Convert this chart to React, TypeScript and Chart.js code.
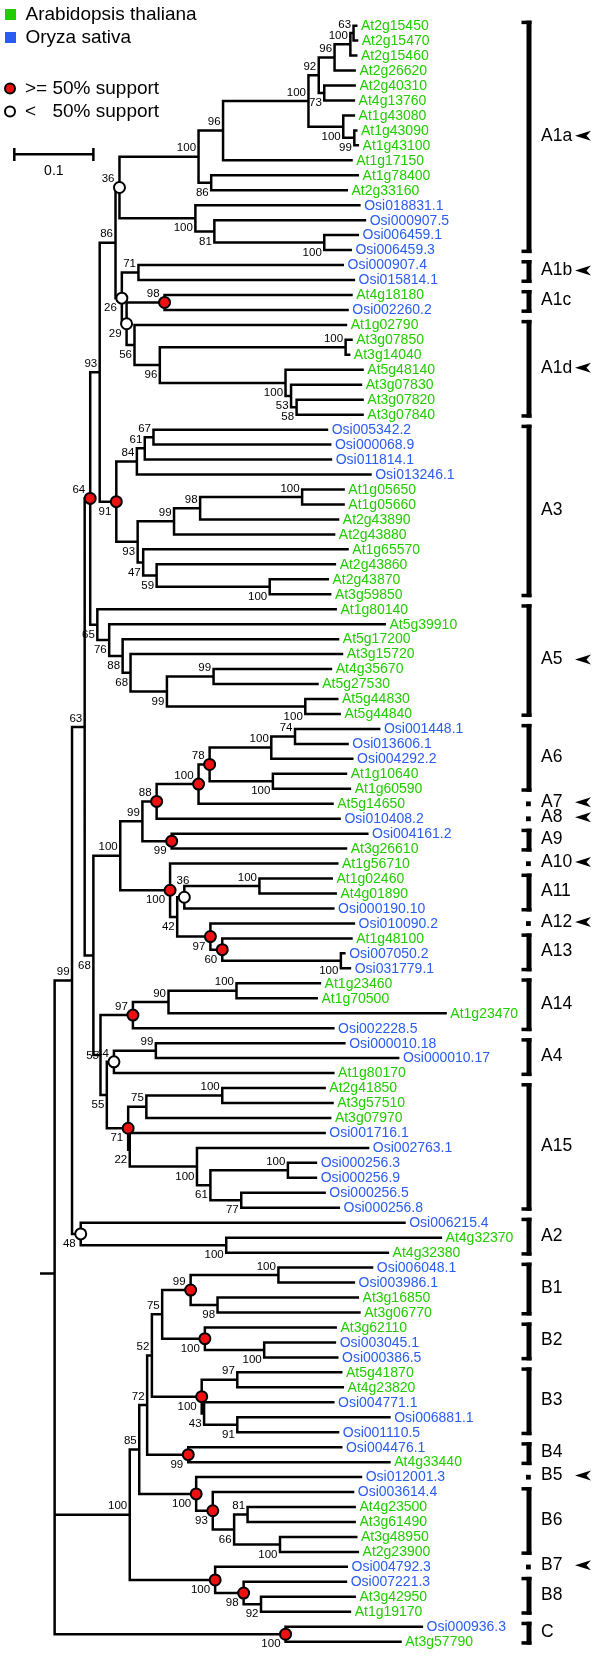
import React, { useEffect, useRef } from 'react';
import { Chart, registerables } from 'chart.js';

Chart.register(...registerables);

// ---------- DATA ----------
const leafNames = [
  'At2g15450', 'At2g15470', 'At2g15460', 'At2g26620', 'At2g40310', 'At4g13760', 'At1g43080', 'At1g43090', 'At1g43100', 'At1g17150',
  'At1g78400', 'At2g33160', 'Osi018831.1', 'Osi000907.5', 'Osi006459.1', 'Osi006459.3', 'Osi000907.4', 'Osi015814.1', 'At4g18180', 'Osi002260.2',
  'At1g02790', 'At3g07850', 'At3g14040', 'At5g48140', 'At3g07830', 'At3g07820', 'At3g07840', 'Osi005342.2', 'Osi000068.9', 'Osi011814.1',
  'Osi013246.1', 'At1g05650', 'At1g05660', 'At2g43890', 'At2g43880', 'At1g65570', 'At2g43860', 'At2g43870', 'At3g59850', 'At1g80140',
  'At5g39910', 'At5g17200', 'At3g15720', 'At4g35670', 'At5g27530', 'At5g44830', 'At5g44840', 'Osi001448.1', 'Osi013606.1', 'Osi004292.2',
  'At1g10640', 'At1g60590', 'At5g14650', 'Osi010408.2', 'Osi004161.2', 'At3g26610', 'At1g56710', 'At1g02460', 'At4g01890', 'Osi000190.10',
  'Osi010090.2', 'At1g48100', 'Osi007050.2', 'Osi031779.1', 'At1g23460', 'At1g70500', 'At1g23470', 'Osi002228.5', 'Osi000010.18', 'Osi000010.17',
  'At1g80170', 'At2g41850', 'At3g57510', 'At3g07970', 'Osi001716.1', 'Osi002763.1', 'Osi000256.3', 'Osi000256.9', 'Osi000256.5', 'Osi000256.8',
  'Osi006215.4', 'At4g32370', 'At4g32380', 'Osi006048.1', 'Osi003986.1', 'At3g16850', 'At3g06770', 'At3g62110', 'Osi003045.1', 'Osi000386.5',
  'At5g41870', 'At4g23820', 'Osi004771.1', 'Osi006881.1', 'Osi001110.5', 'Osi004476.1', 'At4g33440', 'Osi012001.3', 'Osi003614.4', 'At4g23500',
  'At3g61490', 'At3g48950', 'At2g23900', 'Osi004792.3', 'Osi007221.3', 'At3g42950', 'At1g19170', 'Osi000936.3', 'At3g57790',
];

// distance of each tip from the root (substitutions / site)
const leafDepth = [
  0.383, 0.384, 0.383, 0.381, 0.381, 0.380, 0.380, 0.383, 0.385, 0.377,
  0.385, 0.371, 0.387, 0.394, 0.385, 0.376, 0.366, 0.380, 0.377, 0.372,
  0.370, 0.377, 0.374, 0.391, 0.389, 0.391, 0.391, 0.346, 0.350, 0.351,
  0.401, 0.367, 0.367, 0.360, 0.355, 0.372, 0.356, 0.347, 0.350, 0.357,
  0.419, 0.360, 0.365, 0.351, 0.334, 0.359, 0.362, 0.412, 0.372, 0.378,
  0.370, 0.375, 0.353, 0.362, 0.397, 0.370, 0.359, 0.352, 0.357, 0.354,
  0.380, 0.377, 0.368, 0.375, 0.337, 0.333, 0.496, 0.354, 0.368, 0.436,
  0.354, 0.343, 0.353, 0.350, 0.343, 0.398, 0.332, 0.332, 0.343, 0.361,
  0.444, 0.490, 0.423, 0.403, 0.380, 0.385, 0.387, 0.357, 0.356, 0.359,
  0.364, 0.366, 0.354, 0.425, 0.360, 0.364, 0.425, 0.389, 0.379, 0.381,
  0.381, 0.383, 0.385, 0.371, 0.370, 0.381, 0.375, 0.466, 0.439,
];

// internal nodes in post-order; children are leaf indices (numbers) or node ids (strings)
const nodeIds = [
  'a1', 'a2', 'a3', 'a4', 'a5', 'a6', 'a7', 'a8', 'a9', 'a10', 'a11', 'a12', 'a13', 'a14', 'a15',
  'b1', 'c1', 'd1', 'd2', 'd3', 'd4', 'd5', 'd6', 'd7', 'd8', 'd9',
  'e1', 'e2', 'e3', 'e4', 'e5', 'e6', 'e7', 'e8', 'e9', 'e10', 'e11', 'e12',
  'f1', 'f2', 'f3', 'f4', 'f5', 'f6', 'f7', 'f8',
  'g1', 'g2', 'g3', 'g4', 'g5', 'g6', 'g7', 'g8',
  'h1', 'h2', 'h3', 'h4', 'h5', 'h6', 'h7', 'h8',
  'i1', 'i2', 'i3', 'j1', 'j2',
  'k1', 'k2', 'k3', 'k4', 'k5', 'k6', 'k7', 'k8', 'k9', 'k10', 'k11', 'k12',
  'l1', 'l2', 'l3',
  'm1', 'm2', 'm3', 'm4', 'm5', 'm6', 'm7', 'm8', 'm9', 'm10', 'm11', 'm12', 'm13', 'm14', 'm15', 'm16', 'm17', 'm18', 'm19', 'm20', 'm21', 'm22', 'm23',
  'n1', 'root',
];
const nodeKids: (number | string)[][] = [
  [0, 1], ['a1', 2], ['a2', 3], [4, 5], ['a3', 'a4'], [7, 8], [6, 'a6'], ['a5', 'a7'], ['a8', 9], [10, 11], ['a9', 'a10'], [14, 15], [13, 'a12'], [12, 'a13'], ['a11', 'a14'],
  [16, 17], [18, 19], [21, 22], [25, 26], [24, 'd2'], [23, 'd3'], ['d1', 'd4'], [20, 'd5'], ['c1', 'd6'], ['b1', 'd7'], ['a15', 'd8'],
  [27, 28], ['e1', 29], ['e2', 30], [31, 32], ['e4', 33], ['e5', 34], [37, 38], [36, 'e7'], [35, 'e8'], ['e6', 'e9'], ['e3', 'e10'], ['d9', 'e11'],
  [43, 44], [45, 46], ['f1', 'f2'], [42, 'f3'], [41, 'f4'], [40, 'f5'], [39, 'f6'], ['e12', 'f7'],
  [47, 48], ['g1', 49], [50, 51], ['g2', 'g3'], ['g4', 52], ['g5', 53], [54, 55], ['g6', 'g7'],
  [57, 58], ['h1', 59], [62, 63], [61, 'h3'], [60, 'h4'], ['h2', 'h5'], [56, 'h6'], ['g8', 'h7'],
  [64, 65], ['i1', 66], ['i2', 67], [68, 69], ['j1', 70],
  [71, 72], ['k1', 73], [76, 77], [78, 79], ['k3', 'k4'], [75, 'k5'], [74, 'k6'], ['k2', 'k7'], ['j2', 'k8'], ['i3', 'k9'], ['h8', 'k10'], ['f8', 'k11'],
  [81, 82], [80, 'l1'], ['k12', 'l2'],
  [83, 84], [85, 86], ['m1', 'm2'], [88, 89], [87, 'm4'], ['m3', 'm5'], [90, 91], [93, 94], [92, 'm8'], ['m7', 'm9'], ['m6', 'm10'], [95, 96], ['m11', 'm12'],
  [99, 100], [101, 102], ['m14', 'm15'], [98, 'm16'], [97, 'm17'], ['m13', 'm18'], [105, 106], [104, 'm20'], [103, 'm21'], ['m19', 'm22'],
  [107, 108], ['l3', 'm23', 'n1'],
];
const nodeDepth = [
  0.378, 0.374, 0.354, 0.341, 0.334, 0.379, 0.365, 0.321, 0.213, 0.198, 0.182, 0.341, 0.202, 0.178, 0.082,
  0.106, 0.139, 0.368, 0.306, 0.299, 0.292, 0.133, 0.101, 0.091, 0.085, 0.077,
  0.125, 0.114, 0.104, 0.313, 0.184, 0.151, 0.272, 0.129, 0.112, 0.105, 0.078, 0.057,
  0.201, 0.317, 0.142, 0.096, 0.086, 0.069, 0.054, 0.045,
  0.304, 0.274, 0.276, 0.196, 0.182, 0.129, 0.148, 0.111,
  0.259, 0.164, 0.362, 0.212, 0.197, 0.155, 0.146, 0.083,
  0.230, 0.144, 0.099, 0.128, 0.075,
  0.212, 0.116, 0.295, 0.236, 0.197, 0.180, 0.095, 0.093, 0.066, 0.058, 0.049, 0.038,
  0.217, 0.033, 0.022,
  0.283, 0.206, 0.172, 0.265, 0.190, 0.136, 0.231, 0.231, 0.189, 0.186, 0.123, 0.169, 0.117,
  0.244, 0.285, 0.227, 0.200, 0.179, 0.107, 0.261, 0.239, 0.203, 0.095,
  0.292, 0,
];
const nodeSupport: (number | null)[] = [
  63, 100, 96, 73, 92, 99, 100, 100, 96, 86, 100, 100, 81, 100, 36,
  71, 98, 100, 58, 53, 100, 96, 56, 29, 26, 86,
  67, 61, 84, 100, 98, 99, 100, 59, 47, 93, 91, 93,
  99, 100, 99, 68, 88, 76, 65, 64,
  74, 100, 100, 78, 100, 88, 99, 99,
  100, 36, 100, 60, 97, 42, 100, 100,
  100, 90, 97, 99, 44,
  100, 75, 100, 77, 61, 100, 22, 71, 55, 55, 68, 63,
  100, 48, 99,
  100, 98, 99, 100, 100, 75, 97, 91, 43, 100, 52, 99, 72,
  81, 100, 66, 93, 100, 85, 92, 98, 100, 100,
  100, null,
];
// nodes marked with a support circle in the figure
const nodeCircle = [
  0, 0, 0, 0, 0, 0, 0, 0, 0, 0, 0, 0, 0, 0, 1,
  0, 1, 0, 0, 0, 0, 0, 0, 1, 1, 0,
  0, 0, 0, 0, 0, 0, 0, 0, 0, 0, 1, 0,
  0, 0, 0, 0, 0, 0, 0, 1,
  0, 0, 0, 1, 1, 1, 1, 0,
  0, 1, 0, 1, 1, 0, 1, 0,
  0, 0, 1, 0, 1,
  0, 0, 0, 0, 0, 0, 0, 1, 0, 0, 0, 0,
  0, 1, 0,
  0, 0, 1, 0, 1, 0, 0, 0, 0, 1, 0, 1, 0,
  0, 0, 0, 1, 1, 0, 0, 1, 1, 0,
  1, 0,
];
const rootStubRow = 83.4;
const rootStubDepth = -0.0185;

// clade brackets (first / last leaf index)
const cladeNames = ['A1a', 'A1b', 'A1c', 'A1d', 'A3', 'A5', 'A6', 'A7', 'A8', 'A9', 'A10', 'A11', 'A12', 'A13', 'A14', 'A4', 'A15', 'A2', 'B1', 'B2', 'B3', 'B4', 'B5', 'B6', 'B7', 'B8', 'C'];
const cladeFirst = [0, 16, 18, 20, 27, 39, 47, 52, 53, 54, 56, 57, 60, 61, 64, 68, 71, 80, 83, 87, 90, 95, 97, 98, 103, 104, 107];
const cladeLast = [15, 17, 19, 26, 38, 46, 51, 52, 53, 55, 56, 59, 60, 63, 67, 70, 79, 82, 86, 89, 94, 96, 97, 102, 103, 106, 108];
const cladeArrow = [1, 1, 0, 1, 0, 1, 0, 1, 1, 0, 1, 0, 1, 0, 0, 0, 0, 0, 0, 0, 0, 0, 1, 0, 1, 0, 0];

const speciesNames = ['Arabidopsis thaliana', 'Oryza sativa'];
const speciesColors = ['#22cc00', '#2a5cf2'];
const supportLegend = ['>= 50% support', '<', '50% support'];
const scaleBarStart = -0.051;
const scaleBarLength = 0.1;
const scaleBarLabel = '0.1';

const xMin = -0.0596;
const xMax = 0.6802;
const yMin = -1.212;
const yMax = 108.99;

// label placement exceptions (pixels) where the figure moves a support value off its usual spot
const labelShift: Record<string, [number, number]> = { h2: [10, -7.5], k10: [1, -9] };

const FONT = '"Liberation Sans", Arial, Helvetica, sans-serif';
const RED = '#ee1111';

export default function App() {
  const ref = useRef<HTMLCanvasElement>(null);

  useEffect(() => {
    document.body.style.margin = '0';
    const canvas = ref.current;
    if (!canvas) return;

    const pos: Record<string, { x: number; y: number }> = {};
    const key = (k: number | string) => (typeof k === 'number' ? 'L' + k : k);
    leafNames.forEach((_, i) => {
      pos['L' + i] = { x: leafDepth[i], y: i };
    });
    const lastKid: Record<string, boolean> = {};
    nodeIds.forEach((id, j) => {
      const kids = nodeKids[j].map(key);
      const ys = kids.map((k) => pos[k].y);
      pos[id] = { x: nodeDepth[j], y: (ys[0] + ys[ys.length - 1]) / 2 };
      lastKid[kids[kids.length - 1]] = true;
    });

    const branches: any[] = [];
    const gap = { x: null, y: null };
    nodeIds.forEach((id, j) => {
      const kids = nodeKids[j].map(key);
      const n = pos[id];
      const f = pos[kids[0]];
      const l = pos[kids[kids.length - 1]];
      branches.push({ x: f.x, y: f.y }, { x: n.x, y: f.y }, { x: n.x, y: l.y }, { x: l.x, y: l.y }, gap);
      for (let m = 1; m < kids.length - 1; m++) {
        const c = pos[kids[m]];
        branches.push({ x: n.x, y: c.y }, { x: c.x, y: c.y }, gap);
      }
    });
    branches.push({ x: rootStubDepth, y: rootStubRow }, { x: 0, y: rootStubRow }, gap);

    const markers: any[] = [];
    const markerColors: string[] = [];
    nodeIds.forEach((id, j) => {
      if (nodeCircle[j]) {
        markers.push({ x: pos[id].x, y: pos[id].y });
        markerColors.push((nodeSupport[j] ?? 0) >= 50 ? RED : '#ffffff');
      }
    });

    const textPlugin = {
      id: 'treeText',
      afterDatasetsDraw(chart: any) {
        const c = chart.ctx as CanvasRenderingContext2D;
        const xs = chart.scales.x;
        const ys = chart.scales.y;
        c.save();
        // leaf labels
        c.font = `14px ${FONT}`;
        c.textBaseline = 'middle';
        c.textAlign = 'left';
        leafNames.forEach((name, i) => {
          c.fillStyle = name.startsWith('Osi') ? speciesColors[1] : speciesColors[0];
          c.fillText(name, xs.getPixelForValue(leafDepth[i]) + 3.5, ys.getPixelForValue(i) + 0.5);
        });
        // support values
        c.font = `11.5px ${FONT}`;
        c.fillStyle = '#000';
        c.textAlign = 'right';
        nodeIds.forEach((id, j) => {
          const s = nodeSupport[j];
          if (s == null) return;
          const sh = labelShift[id] || [0, 0];
          const px = xs.getPixelForValue(pos[id].x) - (nodeCircle[j] ? 5 : 2.5) + sh[0];
          const py = ys.getPixelForValue(pos[id].y) + (lastKid[id] ? 10 : -8.5) + sh[1];
          c.fillText(String(s), px, py);
        });
        // clade brackets
        c.textAlign = 'left';
        cladeNames.forEach((name, k) => {
          const y1 = ys.getPixelForValue(cladeFirst[k]);
          const y2 = ys.getPixelForValue(cladeLast[k]);
          c.fillStyle = '#000';
          if (cladeFirst[k] === cladeLast[k]) {
            c.fillRect(526, y1 - 2.3, 4.8, 4.8);
          } else {
            const top = y1 - 5;
            const bot = y2 + 3;
            c.fillRect(526.5, top, 5, bot - top);
            c.fillRect(521.5, top, 10, 3.5);
            c.fillRect(521.5, bot - 3.5, 10, 3.5);
          }
          const ym = (y1 + y2) / 2 - (cladeFirst[k] === cladeLast[k] ? 1.5 : 2);
          c.font = `17.5px ${FONT}`;
          c.textBaseline = 'middle';
          c.fillText(name, 541, ym);
          if (cladeArrow[k]) {
            const ay = ym;
            c.beginPath();
            c.moveTo(575, ay);
            c.lineTo(591, ay - 5);
            c.lineTo(586.5, ay);
            c.lineTo(591, ay + 5);
            c.closePath();
            c.fill();
          }
        });
        // legend
        c.font = `19px ${FONT}`;
        c.textBaseline = 'middle';
        c.fillStyle = speciesColors[0];
        c.fillRect(5, 9, 11, 11);
        c.fillStyle = speciesColors[1];
        c.fillRect(5, 32, 11, 11);
        c.fillStyle = '#000';
        c.fillText(speciesNames[0], 25.5, 15);
        c.fillText(speciesNames[1], 25.5, 38);
        c.lineWidth = 2;
        c.strokeStyle = '#000';
        c.beginPath();
        c.arc(10, 88.5, 5, 0, Math.PI * 2);
        c.fillStyle = RED;
        c.fill();
        c.stroke();
        c.beginPath();
        c.arc(10, 111.5, 5, 0, Math.PI * 2);
        c.fillStyle = '#fff';
        c.fill();
        c.stroke();
        c.fillStyle = '#000';
        c.fillText(supportLegend[0], 25, 89);
        c.fillText(supportLegend[1], 25, 112);
        const off = c.measureText('>= ').width;
        c.fillText(supportLegend[2], 25 + off, 112);
        // scale bar
        const sx1 = xs.getPixelForValue(scaleBarStart);
        const sx2 = xs.getPixelForValue(scaleBarStart + scaleBarLength);
        c.lineWidth = 2.5;
        c.beginPath();
        c.moveTo(sx1, 154.3);
        c.lineTo(sx2, 154.3);
        c.moveTo(sx1, 148);
        c.lineTo(sx1, 161);
        c.moveTo(sx2, 148);
        c.lineTo(sx2, 161);
        c.stroke();
        c.font = `14px ${FONT}`;
        c.textAlign = 'center';
        c.fillText(scaleBarLabel, (sx1 + sx2) / 2, 171);
        c.restore();
      },
    };

    const chart = new Chart(canvas, {
      type: 'scatter',
      data: {
        datasets: [
          {
            label: 'support',
            data: markers,
            order: 0,
            showLine: false,
            pointRadius: 5.5,
            pointHoverRadius: 5.5,
            pointBorderWidth: 2,
            pointBorderColor: '#000',
            pointBackgroundColor: markerColors,
          } as any,
          {
            label: 'branches',
            data: branches,
            order: 1,
            showLine: true,
            spanGaps: false,
            borderColor: '#000',
            borderWidth: 2.5,
            borderJoinStyle: 'miter',
            borderCapStyle: 'butt',
            pointRadius: 0,
            pointHoverRadius: 0,
            pointHitRadius: 0,
            tension: 0,
          } as any,
        ],
      },
      options: {
        animation: false,
        responsive: false,
        maintainAspectRatio: false,
        devicePixelRatio: 1,
        layout: { padding: 0 },
        events: [],
        plugins: { legend: { display: false }, tooltip: { enabled: false } },
        scales: {
          x: { type: 'linear', min: xMin, max: xMax, display: false },
          y: { type: 'linear', min: yMin, max: yMax, reverse: true, display: false },
        },
      },
      plugins: [textPlugin],
    });
    return () => chart.destroy();
  }, []);

  return (
    <div style={{ position: 'absolute', left: 0, top: 0, width: 600, height: 1664, background: '#fff' }}>
      <canvas ref={ref} width={600} height={1664} style={{ display: 'block', width: 600, height: 1664 }} />
    </div>
  );
}
